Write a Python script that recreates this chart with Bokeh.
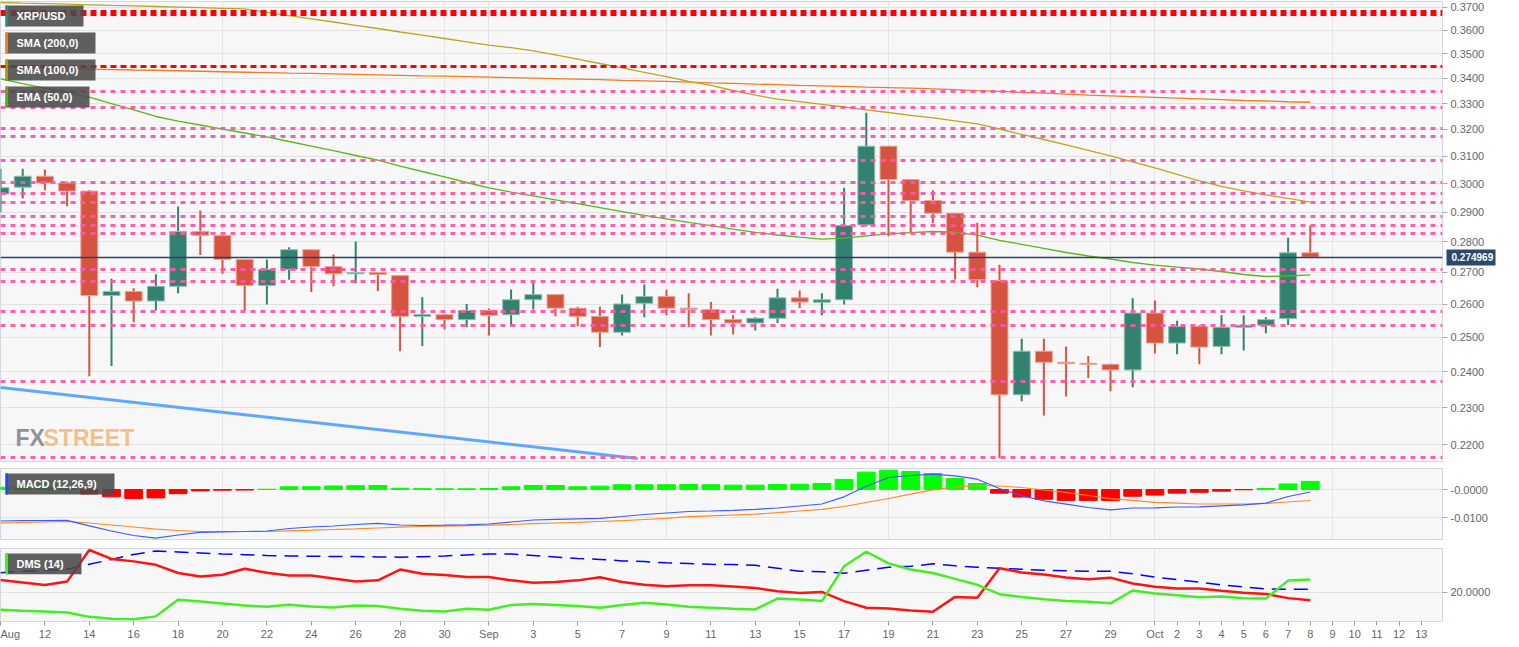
import numpy as np
from bokeh.plotting import figure
from bokeh.layouts import column
from bokeh.models import Range1d, FixedTicker, PrintfTickFormatter, Grid, LogAxis
from bokeh.core.properties import value
from bokeh.embed import file_html
from bokeh.resources import INLINE

# ---------------- data (day index 0 = Aug 10, 59 = Oct 8) ----------------
days = list(range(60))
opens = [0.2964, 0.2988, 0.3027, 0.3003, 0.2974, 0.2627, 0.2640, 0.2610, 0.2656, 0.2835,
         0.2821, 0.2742, 0.2659, 0.2710, 0.2774, 0.2719, 0.2696, 0.2700, 0.2690, 0.2563,
         0.2568, 0.2553, 0.2581, 0.2568, 0.2614, 0.2630, 0.2588, 0.2563, 0.2515, 0.2603,
         0.2624, 0.2588, 0.2584, 0.2553, 0.2543, 0.2557, 0.2620, 0.2606, 0.2614, 0.2857,
         0.3137, 0.3015, 0.2941, 0.2897, 0.2766, 0.2674, 0.2335, 0.2459, 0.2427, 0.2424,
         0.2421, 0.2405, 0.2573, 0.2483, 0.2532, 0.2473, 0.2530, 0.2536, 0.2556, 0.2764]
highs = [0.3054, 0.3054, 0.3051, 0.3008, 0.2978, 0.2680, 0.2650, 0.2694, 0.2920, 0.2906,
         0.2822, 0.2742, 0.2742, 0.2782, 0.2775, 0.2758, 0.2801, 0.2700, 0.2690, 0.2622,
         0.2572, 0.2601, 0.2587, 0.2646, 0.2667, 0.2630, 0.2592, 0.2592, 0.2630, 0.2662,
         0.2645, 0.2634, 0.2607, 0.2566, 0.2560, 0.2648, 0.2643, 0.2634, 0.2986, 0.3264,
         0.3137, 0.3017, 0.2977, 0.2897, 0.2864, 0.2725, 0.2496, 0.2496, 0.2473, 0.2445,
         0.2423, 0.2619, 0.2612, 0.2550, 0.2536, 0.2566, 0.2566, 0.2560, 0.2814, 0.2855]
lows = [0.2900, 0.2949, 0.2977, 0.2921, 0.2387, 0.2416, 0.2545, 0.2581, 0.2634, 0.2757,
        0.2696, 0.2581, 0.2599, 0.2677, 0.2638, 0.2656, 0.2666, 0.2641, 0.2459, 0.2474,
        0.2523, 0.2530, 0.2505, 0.2533, 0.2584, 0.2563, 0.2533, 0.2471, 0.2505, 0.2560,
        0.2566, 0.2530, 0.2505, 0.2508, 0.2520, 0.2543, 0.2588, 0.2566, 0.2599, 0.2852,
        0.2819, 0.2832, 0.2863, 0.2678, 0.2653, 0.2166, 0.2317, 0.2278, 0.2330, 0.2382,
        0.2345, 0.2356, 0.2452, 0.2450, 0.2421, 0.2450, 0.2461, 0.2512, 0.2536, 0.2750]
closes = [0.2986, 0.3027, 0.3003, 0.2974, 0.2627, 0.2640, 0.2610, 0.2656, 0.2835, 0.2822,
          0.2742, 0.2659, 0.2710, 0.2774, 0.2719, 0.2696, 0.2700, 0.2694, 0.2563, 0.2569,
          0.2553, 0.2581, 0.2566, 0.2614, 0.2630, 0.2588, 0.2563, 0.2515, 0.2601, 0.2624,
          0.2588, 0.2584, 0.2553, 0.2543, 0.2557, 0.2620, 0.2607, 0.2614, 0.2855, 0.3137,
          0.3015, 0.2941, 0.2897, 0.2766, 0.2677, 0.2335, 0.2459, 0.2427, 0.2423, 0.2421,
          0.2405, 0.2573, 0.2483, 0.2532, 0.2471, 0.2530, 0.2536, 0.2553, 0.2764, 0.274969]
last_price = 0.274969

sma200 = [0.3446, 0.3444, 0.3442, 0.3440, 0.3438, 0.3436, 0.3434, 0.3433, 0.3431, 0.3429,
          0.3427, 0.3425, 0.3423, 0.3421, 0.3420, 0.3418, 0.3416, 0.3414, 0.3412, 0.3410,
          0.3409, 0.3407, 0.3405, 0.3403, 0.3401, 0.3399, 0.3397, 0.3395, 0.3392, 0.3390,
          0.3388, 0.3385, 0.3382, 0.3380, 0.3377, 0.3375, 0.3372, 0.3370, 0.3368, 0.3365,
          0.3363, 0.3361, 0.3358, 0.3355, 0.3351, 0.3348, 0.3344, 0.3341, 0.3337, 0.3333,
          0.3330, 0.3327, 0.3324, 0.3321, 0.3318, 0.3315, 0.3312, 0.3310, 0.3307, 0.3305]
sma100 = [0.37207, 0.37181, 0.37159, 0.37132, 0.37106, 0.37079, 0.37057, 0.37031, 0.37004, 0.36978,
          0.36952, 0.36925, 0.36776, 0.36628, 0.36494, 0.36355, 0.36213, 0.36076, 0.35926, 0.35790,
          0.35650, 0.35510, 0.35372, 0.35263, 0.35133, 0.34963, 0.34784, 0.34607, 0.34423, 0.34247,
          0.34069, 0.33879, 0.33715, 0.33515, 0.33329, 0.33175, 0.33073, 0.32971, 0.32865, 0.32756,
          0.32651, 0.32543, 0.32439, 0.32331, 0.32216, 0.32017, 0.31809, 0.31620, 0.31415, 0.31210,
          0.31007, 0.30787, 0.30569, 0.30334, 0.30100, 0.29904, 0.29745, 0.29604, 0.29481, 0.29352]
ema50 = [0.33983, 0.33794, 0.33610, 0.33435, 0.33249, 0.33001, 0.32748, 0.32496, 0.32315, 0.32169,
         0.32016, 0.31865, 0.31718, 0.31545, 0.31376, 0.31202, 0.31025, 0.30856, 0.30640, 0.30441,
         0.30243, 0.30046, 0.29857, 0.29708, 0.29571, 0.29435, 0.29299, 0.29163, 0.29022, 0.28898,
         0.28774, 0.28655, 0.28543, 0.28428, 0.28317, 0.28230, 0.28159, 0.28089, 0.28123, 0.28203,
         0.28267, 0.28307, 0.28347, 0.28327, 0.28223, 0.28052, 0.27919, 0.27787, 0.27649, 0.27534,
         0.27436, 0.27322, 0.27238, 0.27170, 0.27112, 0.27032, 0.26936, 0.26872, 0.26888, 0.26926]

red_levels = [0.3681, 0.3667, 0.3450]
pink_levels = [0.3349, 0.3286, 0.3202, 0.3173, 0.3084, 0.3006, 0.2967, 0.2935, 0.2886,
               0.2854, 0.2827, 0.2709, 0.2672, 0.2579, 0.2534, 0.2373, 0.2168]
trend_days = [0, 28.7]
trend_prices = [0.2355, 0.2165]

macd_line = [-0.01125, -0.01114, -0.01107, -0.01100, -0.01296, -0.01482, -0.01642, -0.01739, -0.01624, -0.01528,
             -0.01510, -0.01499, -0.01482, -0.01392, -0.01339, -0.01303, -0.01250, -0.01207, -0.01267, -0.01285,
             -0.01275, -0.01264, -0.01232, -0.01160, -0.01089, -0.01064, -0.01046, -0.01028, -0.00964, -0.00893,
             -0.00839, -0.00785, -0.00768, -0.00743, -0.00707, -0.00660, -0.00589, -0.00518, -0.00261, 0.00114,
             0.00428, 0.00500, 0.00546, 0.00489, 0.00368, 0.00036, -0.00225, -0.00403, -0.00525, -0.00643,
             -0.00725, -0.00660, -0.00653, -0.00625, -0.00618, -0.00582, -0.00546, -0.00489, -0.00250, -0.00089]
macd_signal = [-0.01203, -0.01178, -0.01153, -0.01142, -0.01196, -0.01267, -0.01339, -0.01414, -0.01464, -0.01499,
               -0.01499, -0.01499, -0.01499, -0.01474, -0.01453, -0.01428, -0.01403, -0.01375, -0.01346, -0.01321,
               -0.01307, -0.01292, -0.01275, -0.01250, -0.01221, -0.01196, -0.01171, -0.01142, -0.01114, -0.01071,
               -0.01028, -0.00971, -0.00939, -0.00910, -0.00882, -0.00828, -0.00768, -0.00707, -0.00607, -0.00464,
               -0.00321, -0.00168, -0.00011, 0.00089, 0.00150, 0.00125, 0.00071, -0.00018, -0.00107, -0.00214,
               -0.00328, -0.00386, -0.00457, -0.00486, -0.00518, -0.00518, -0.00518, -0.00500, -0.00446, -0.00393]
macd_hist = [0.0008, 0.0008, 0.0006, 0.0003, -0.0016, -0.0026, -0.0032, -0.0030, -0.0015, -0.0005,
             -0.00025, -0.0002, 0.0001, 0.00096, 0.0010, 0.00125, 0.00136, 0.00143, 0.00043, 0.0003,
             0.00025, 0.00025, 0.00036, 0.00096, 0.00143, 0.00143, 0.00096, 0.0012, 0.0017, 0.0017,
             0.0017, 0.0018, 0.0017, 0.00155, 0.00155, 0.0018, 0.0019, 0.0021, 0.0036, 0.0062,
             0.0069, 0.0064, 0.0057, 0.0039, 0.0021, -0.0013, -0.0027, -0.0035, -0.0039, -0.0039,
             -0.0039, -0.0024, -0.0020, -0.0013, -0.0010, -0.0006, -0.0001, 0.00036, 0.0020, 0.0029]

dms_minus = [24.9, 23.9, 22.9, 24.3, 37.1, 33.5, 32.5, 31.1, 27.8, 26.4,
             27.1, 29.5, 27.9, 26.8, 26.8, 25.6, 24.3, 24.8, 29.2, 27.5,
             27.0, 26.2, 26.2, 24.8, 23.8, 24.1, 24.8, 26.1, 24.1, 23.0,
             22.4, 22.8, 22.8, 22.3, 21.7, 20.4, 19.7, 20.1, 16.4, 13.7,
             13.4, 12.6, 12.1, 18.1, 17.7, 29.7, 28.0, 27.2, 26.0, 25.3,
             25.9, 23.5, 22.2, 21.5, 21.5, 20.6, 19.8, 19.3, 17.6, 16.7]
dms_plus = [12.9, 12.5, 12.2, 11.8, 10.0, 9.2, 9.0, 10.2, 16.9, 16.2,
            15.4, 14.6, 14.1, 14.9, 14.2, 13.8, 14.6, 14.4, 13.3, 12.5,
            12.2, 13.3, 12.9, 14.8, 15.2, 14.8, 14.4, 13.7, 14.8, 15.7,
            15.0, 14.1, 13.7, 13.3, 13.0, 17.4, 17.0, 16.4, 30.5, 36.4,
            31.7, 29.2, 27.8, 25.4, 23.0, 19.2, 18.1, 17.1, 16.4, 16.1,
            15.5, 20.7, 19.5, 18.8, 18.0, 18.3, 17.5, 17.4, 24.7, 25.2]
dms_adx = [27.9, 28.5, 28.9, 29.3, 31.3, 33.3, 35.3, 36.7, 36.3, 35.9,
           35.5, 35.2, 34.9, 34.7, 34.6, 34.5, 34.5, 34.3, 34.2, 34.4,
           34.7, 35.1, 35.5, 35.5, 34.9, 34.3, 33.7, 33.3, 32.7, 32.4,
           31.9, 31.6, 31.3, 31.2, 30.9, 29.7, 28.5, 28.3, 27.7, 28.9,
           30.1, 30.5, 31.5, 30.7, 30.1, 29.7, 29.3, 28.9, 28.7, 28.5,
           28.5, 27.5, 26.1, 25.1, 24.1, 22.9, 22.1, 21.3, 21.2, 21.2]

price_ticks = [0.22, 0.23, 0.24, 0.25, 0.26, 0.27, 0.28, 0.29, 0.30, 0.31,
               0.32, 0.33, 0.34, 0.35, 0.36, 0.37]
macd_ticks = [-0.00001, -0.01]
dms_ticks = [20]
month_days = [22, 52]
tick_days = [0, 2, 4, 6, 8, 10, 12, 14, 16, 18, 20, 22, 24, 26, 28, 30, 32, 34, 36, 38,
             40, 42, 44, 46, 48, 50, 52, 53, 54, 55, 56, 57, 58, 59, 60, 61, 62, 63, 64]
tick_labels = ["Aug", "12", "14", "16", "18", "20", "22", "24", "26", "28", "30", "Sep",
               "3", "5", "7", "9", "11", "13", "15", "17", "19", "21", "23", "25", "27", "29",
               "Oct", "2", "3", "4", "5", "6", "7", "8", "9", "10", "11", "12", "13"]

# ---------------- styling / layout ----------------
FONT = "Liberation Sans"
FRAME_BG = "#f7f7f7"
OUTLINE = "#cfd8e6"
GRID = "#e3e3e3"
W = 1519
RIGHT = 77
PX_DAY = 22.2
GREEN, RED = "#33826f", "#d6533f"
GREEN_E, RED_E = "#8fc0b3", "#eba295"
NAVY = "#2b4a6b"

x_range = Range1d(0, 1442 / PX_DAY)


def XD(px):
    return px / PX_DAY


def PM(py):
    return 0.37 * np.exp(-(py - 6.7) / 842.0)


def PMACD(py):
    return (489.0 - py) * 0.000357


def PDMS(py):
    return 20.0 + (592.3 - py) / 2.5


def style_axis(ax):
    ax.axis_line_color = None
    ax.major_tick_in = 0
    ax.minor_tick_line_color = None
    ax.minor_tick_out = 0
    ax.minor_tick_in = 0
    ax.major_label_text_font = FONT
    ax.major_label_text_font_size = "11px"
    ax.major_label_text_color = "#666666"


def base_fig(height, y_range, top, bottom, y_type="linear", x_loc=None):
    p = figure(width=W, height=height, x_range=x_range, y_range=y_range,
               y_axis_type=y_type, x_axis_location=x_loc, y_axis_location="right",
               output_backend="svg", toolbar_location=None,
               min_border_left=0, min_border_right=RIGHT,
               min_border_top=top, min_border_bottom=bottom,
               background_fill_color=FRAME_BG, border_fill_color="white",
               outline_line_color=OUTLINE, outline_line_width=1)
    ax = p.yaxis[0]
    style_axis(ax)
    ax.major_tick_out = 5
    ax.major_tick_line_color = "#aaaaaa"
    ax.major_label_standoff = 3
    p.ygrid.grid_line_color = GRID
    return p


def legend_box(p, ymap, x0, x1, y0, y1, bar_color, text):
    p.quad(left=[XD(x0)], right=[XD(x1)], top=[ymap(y0)], bottom=[ymap(y1)],
           fill_color="#4a4a4a", fill_alpha=0.88, line_color=None)
    p.quad(left=[XD(x0)], right=[XD(x0 + 2.5)], top=[ymap(y0)], bottom=[ymap(y1)],
           fill_color=bar_color, line_color=None)
    p.text(x=[XD(x0 + 11)], y=[ymap((y0 + y1) / 2.0)], text=[text], text_color="white",
           text_font=value(FONT), text_font_style="bold", text_font_size="11px",
           text_baseline="middle", text_align="left")


# ---------------- main price panel ----------------
p1 = base_fig(464, Range1d(PM(461), PM(1)), top=1, bottom=3, y_type="log")
p1.yaxis.ticker = FixedTicker(ticks=price_ticks)
p1.ygrid.ticker = FixedTicker(ticks=price_ticks)
p1.yaxis.formatter = PrintfTickFormatter(format="%.4f")
p1.add_layout(Grid(dimension=0, ticker=FixedTicker(ticks=month_days), grid_line_color=GRID))

up = [c >= o for o, c in zip(opens, closes)]
col = [GREEN if u else RED for u in up]
edge = [GREEN_E if u else RED_E for u in up]
body_top = [max(o, c) for o, c in zip(opens, closes)]
body_bot = [min(o, c) for o, c in zip(opens, closes)]
p1.segment(x0=days, y0=lows, x1=days, y1=highs, line_color=col, line_width=2)
p1.vbar(x=days, width=0.76, top=body_top, bottom=body_bot, fill_color=col,
        line_color=edge, line_width=1)

p1.line(days, sma200, line_color="#ef7d22", line_width=1.3)
p1.line(days, sma100, line_color="#bba624", line_width=1.3)
p1.line(days, ema50, line_color="#5cb51e", line_width=1.3)
p1.line(trend_days, trend_prices, line_color="#5ea8ff", line_width=3)

p1.hspan(y=pink_levels, line_color="#ff55aa", line_width=3, line_dash="5 5", line_alpha=0.95)
p1.hspan(y=red_levels, line_color="#ff0000", line_width=3, line_dash="6 4")
p1.hspan(y=[last_price], line_color="#2d4262", line_width=1.5)

legend_box(p1, PM, 5, 83, 5, 26, "#2e8b7a", "XRP/USD")
legend_box(p1, PM, 5, 95, 32, 53, "#ef7d22", "SMA (200,0)")
legend_box(p1, PM, 5, 95, 59, 80, "#a89b12", "SMA (100,0)")
legend_box(p1, PM, 5, 89, 86, 107, "#55b01e", "EMA (50,0)")

p1.text(x=[XD(15)], y=[PM(437)], text=["FX"], text_color="#8f9398",
        text_font=value(FONT), text_font_style="bold",
        text_font_size="23px", text_baseline="alphabetic")
p1.text(x=[XD(43)], y=[PM(437)], text=["STREET"], text_color="#f3c08c",
        text_font=value(FONT), text_font_style="bold",
        text_font_size="23px", text_baseline="alphabetic")

# last-price tag: a second right axis whose single tick is drawn as a navy box
tag = LogAxis(ticker=FixedTicker(ticks=[last_price]),
              formatter=PrintfTickFormatter(format="%.6f"))
tag.axis_line_color = None
tag.minor_tick_line_color = None
tag.minor_tick_out = 0
tag.minor_tick_in = 0
tag.major_tick_in = 41
tag.major_tick_out = 8
tag.major_tick_line_color = NAVY
tag.major_tick_line_width = 16
tag.major_label_standoff = -44
tag.major_label_text_color = "white"
tag.major_label_text_font = FONT
tag.major_label_text_font_style = "bold"
tag.major_label_text_font_size = "10px"
p1.add_layout(tag, "right")

# ---------------- MACD panel ----------------
p2 = base_fig(79, Range1d(PMACD(539), PMACD(468)), top=4, bottom=4)
p2.yaxis.ticker = FixedTicker(ticks=macd_ticks)
p2.ygrid.ticker = FixedTicker(ticks=macd_ticks)
p2.yaxis.formatter = PrintfTickFormatter(format="%.4f")
p2.add_layout(Grid(dimension=0, ticker=FixedTicker(ticks=month_days), grid_line_color=GRID))
hcol = ["#00ff00" if h >= 0 else "#ff0000" for h in macd_hist]
p2.vbar(x=days, width=0.8, top=macd_hist, bottom=0, fill_color=hcol, line_color=hcol, line_width=1)
p2.line(days, macd_signal, line_color="#ff8a2a", line_width=1.2)
p2.line(days, macd_line, line_color="#3a5cff", line_width=1.2)
legend_box(p2, PMACD, 5, 114, 473, 494, "#2244ff", "MACD (12,26,9)")

# ---------------- DMS panel ----------------
p3 = base_fig(99, Range1d(PDMS(622), PDMS(548)), top=5, bottom=20, x_loc="below")
p3.yaxis.ticker = FixedTicker(ticks=dms_ticks)
p3.ygrid.ticker = FixedTicker(ticks=dms_ticks)
p3.yaxis.formatter = PrintfTickFormatter(format="%.4f")
xa = p3.xaxis[0]
style_axis(xa)
xa.ticker = FixedTicker(ticks=tick_days)
xa.major_label_overrides = {d: lab for d, lab in zip(tick_days, tick_labels)}
xa.major_tick_out = 4
xa.major_tick_line_color = "#999999"
xa.major_label_standoff = 2
p3.xgrid.ticker = FixedTicker(ticks=month_days)
p3.xgrid.grid_line_color = GRID

p3.line(days, dms_adx, line_color="#0000ff", line_width=1.5, line_dash="14 8")
p3.line(days, dms_minus, line_color="#ff1414", line_width=2.5)
p3.line(days, dms_plus, line_color="#44ee22", line_width=2.5)
legend_box(p3, PDMS, 5, 81, 553, 574, "#44ee22", "DMS (14)")

layout = column(p1, p2, p3)
open("out.html", "w").write(file_html(layout, INLINE))
